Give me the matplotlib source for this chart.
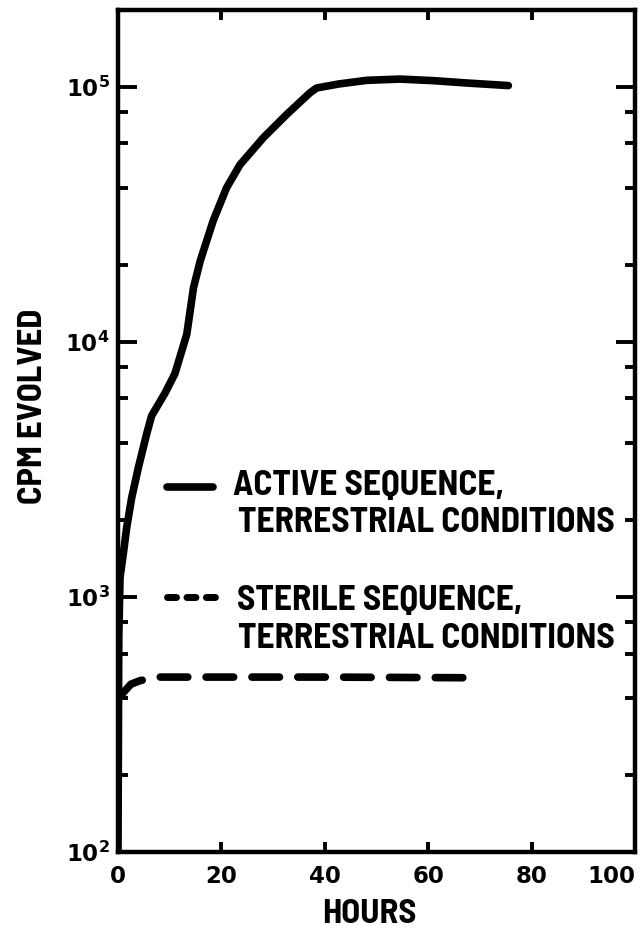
import numpy as np
import matplotlib
matplotlib.use("Agg")
import matplotlib.pyplot as plt
from matplotlib import font_manager
from matplotlib.ticker import LogLocator, NullFormatter, FixedLocator

names = set(f.name for f in font_manager.fontManager.ttflist)
label_font = "Barlow Semi Condensed" if "Barlow Semi Condensed" in names else "DejaVu Sans"
num_font = "DejaVu Sans"

plt.rcParams['mathtext.fontset'] = 'custom'
plt.rcParams['mathtext.rm'] = 'DejaVu Sans:bold'
plt.rcParams['mathtext.it'] = 'DejaVu Sans:bold'
plt.rcParams['mathtext.bf'] = 'DejaVu Sans:bold'

# curve (hours, cpm)
active_hours = [0, 0.15, 0.39, 1.03, 1.68, 2.65, 3.93, 5.55, 6.5, 9.1, 11.0, 13.3, 14.6,
                15.9, 18.4, 21.0, 23.6, 28.1, 32.6, 37.1, 38.4, 42.6, 48.1,
                54.5, 61.0, 67.4, 75.5]
active_cpm = [100, 700, 1190, 1480, 1870, 2450, 3210, 4360, 5130, 6300, 7500, 10700, 16300,
              20750, 29800, 40200, 49500, 63100, 77800, 94600, 98900, 102500, 106000,
              107200, 105700, 103500, 101100]

sterile_hours = [0.5, 1.4, 2.5, 4.3, 8.1, 20, 40, 68.7]
sterile_cpm = [410, 430, 455, 470, 485, 485, 485, 482]

x_ticks = [0, 20, 40, 60, 80, 100]
y_ticks = [1e2, 1e3, 1e4, 1e5]
y_labels = [r'$10^2$', r'$10^3$', r'$10^4$', r'$10^5$']

legend_lines = [("ACTIVE SEQUENCE,", "TERRESTRIAL CONDITIONS"),
                ("STERILE SEQUENCE,", "TERRESTRIAL CONDITIONS")]

fig = plt.figure(figsize=(6.43, 9.30), dpi=100)
ax = fig.add_axes([118/643, 78/930, 517/643, 842/930])

ax.plot(active_hours, active_cpm, color='black', lw=5.5, solid_capstyle='round',
        solid_joinstyle='round')
ax.plot(sterile_hours, sterile_cpm, color='black', lw=5.5, dashes=(3.6, 2.4),
        dash_capstyle='round')

ax.set_yscale('log')
ax.set_xlim(0, 100)
ax.set_ylim(1e2, 2e5)

ax.xaxis.set_major_locator(FixedLocator(x_ticks))
ax.set_xticklabels([str(t) for t in x_ticks])
ax.yaxis.set_major_locator(FixedLocator(y_ticks))
ax.set_yticklabels(y_labels)
ax.yaxis.set_minor_locator(LogLocator(base=10, subs=[2, 4, 6, 8]))
ax.yaxis.set_minor_formatter(NullFormatter())

ax.tick_params(axis='x', which='major', direction='in', top=True, bottom=True,
               length=7, width=2.8, pad=9, labelsize=16.5)
ax.tick_params(axis='y', which='major', direction='in', left=True, right=True,
               length=14, width=2.8, pad=6, labelsize=16.5)
ax.tick_params(axis='y', which='minor', direction='in', left=True, right=True,
               length=7, width=2.8)
for lab in ax.get_xticklabels():
    lab.set_fontfamily(num_font)
    lab.set_fontweight('bold')
ax.get_xticklabels()[-1].set_ha('right')

for s in ax.spines.values():
    s.set_linewidth(3.2)

ax.set_xlabel("HOURS", fontfamily=label_font, fontweight='bold', fontsize=25, va='center')
ax.xaxis.set_label_coords(0.487, -0.0742)
ax.set_ylabel("CPM EVOLVED", fontfamily=label_font, fontweight='bold', fontsize=25, va='center')
ax.yaxis.set_label_coords(-0.1644, 0.5297)

# hand-drawn style key
ax.plot([0.0948, 0.1838], [0.4335, 0.4335], transform=ax.transAxes, color='black',
        lw=5.5, solid_capstyle='round', clip_on=False)
ax.plot([0.095, 0.19], [0.3029, 0.3029], transform=ax.transAxes, color='black',
        lw=5, dashes=(1.3, 1.5), dash_capstyle='round', clip_on=False)

text_pos = [((0.2224, 0.424), (0.232, 0.380)), ((0.230, 0.2874), (0.232, 0.2423))]
for (l1, l2), (p1, p2) in zip(legend_lines, text_pos):
    ax.text(p1[0], p1[1], l1, transform=ax.transAxes, fontfamily=label_font,
            fontweight='bold', fontsize=25.5, va='baseline')
    ax.text(p2[0], p2[1], l2, transform=ax.transAxes, fontfamily=label_font,
            fontweight='bold', fontsize=25.5, va='baseline')

fig.savefig("out.png", dpi=100)
